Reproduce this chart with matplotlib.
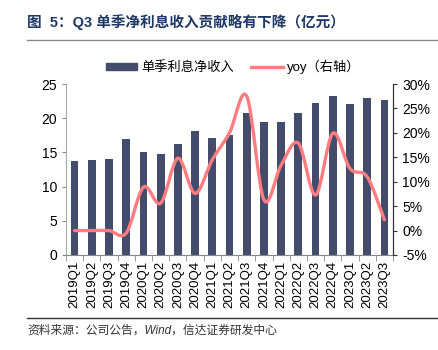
import numpy as np
import matplotlib
matplotlib.use("Agg")
import matplotlib.pyplot as plt
from matplotlib.path import Path
from matplotlib.patches import PathPatch
from matplotlib.lines import Line2D
from matplotlib.patches import Patch

plt.rcParams['font.family'] = ['Liberation Sans', 'Noto Sans CJK SC', 'DejaVu Sans']

quarters = ["2019Q1", "2019Q2", "2019Q3", "2019Q4", "2020Q1", "2020Q2", "2020Q3", "2020Q4",
            "2021Q1", "2021Q2", "2021Q3", "2021Q4", "2022Q1", "2022Q2", "2022Q3", "2022Q4",
            "2023Q1", "2023Q2", "2023Q3"]
nii = [13.8, 13.85, 14.1, 17.0, 15.0, 14.7, 16.2, 18.2, 17.1, 17.6, 20.7, 19.4,
       19.5, 20.8, 22.2, 23.3, 22.1, 22.9, 22.6]
yoy = [0.0, 0.0, 0.0, -0.5, 8.9, 5.6, 14.8, 7.6, 14.5, 20.0, 27.5, 6.3,
       13.4, 17.9, 7.3, 19.9, 12.7, 11.0, 2.2]

bar_color = "#434C6B"
line_color = "#FF7C80"

fig = plt.figure(figsize=(4.39, 3.5), dpi=100)
ax = fig.add_axes([66 / 439, 1 - 255 / 350, (393 - 66) / 439, (255 - 84) / 350])
ax2 = ax.twinx()

x = np.arange(len(quarters))
ax.bar(x, nii, width=0.45, color=bar_color, zorder=2)
ax.set_ylim(0, 25)
ax.set_yticks(np.arange(0, 26, 5))
ax.set_xlim(-0.5, len(quarters) - 0.5)
ax.set_xticks(x)
ax.set_xticklabels(quarters, rotation=90, fontsize=9.5)
ax.set_xticks(np.arange(-0.5, len(quarters), 1), minor=True)
ax.tick_params(axis='x', which='major', length=0, pad=4)
ax.tick_params(axis='x', which='minor', length=4, color="#888888")
ax.tick_params(axis='y', labelsize=10, length=3, color="#888888")

# smooth line like excel (catmull-rom through data points)
pts = np.column_stack([x, yoy]).astype(float)
verts = [tuple(pts[0])]
codes = [Path.MOVETO]
t = 1 / 6
for i in range(len(pts) - 1):
    p0 = pts[max(i - 1, 0)]
    p1 = pts[i]
    p2 = pts[i + 1]
    p3 = pts[min(i + 2, len(pts) - 1)]
    c1 = p1 + (p2 - p0) * t
    c2 = p2 - (p3 - p1) * t
    verts += [tuple(c1), tuple(c2), tuple(p2)]
    codes += [Path.CURVE4] * 3
ax2.add_patch(PathPatch(Path(verts, codes), facecolor='none', edgecolor=line_color,
                        lw=2.4, zorder=3, capstyle='round'))
ax2.set_ylim(-5, 30)
ax2.set_yticks(np.arange(-5, 31, 5))
ax2.set_yticklabels([f"{v}%" for v in range(-5, 31, 5)])
ax2.tick_params(axis='y', labelsize=10, length=3, color="#333333")

for a in (ax, ax2):
    a.spines['top'].set_visible(False)
ax.spines['left'].set_color("#AAAAAA")
ax.spines['bottom'].set_color("#888888")
ax2.spines['left'].set_visible(False)
ax2.spines['bottom'].set_visible(False)
ax2.spines['right'].set_color("#333333")

handles = [Patch(color=bar_color), Line2D([0], [0], color=line_color, lw=2.4)]
fig.legend(handles, ["单季利息净收入", "yoy（右轴）"], loc='center', bbox_to_anchor=(233 / 439, 1 - 67 / 350),
           ncol=2, frameon=False, fontsize=9.5, handlelength=2.4, handleheight=0.5,
           columnspacing=1.3, handletextpad=0.3)

fig.text(27 / 439, 1 - 22 / 350, "图  5：Q3 单季净利息收入贡献略有下降（亿元）", fontsize=10.5,
         color="#1F3864", fontweight='bold', va='center')
fig.add_artist(Line2D([27 / 439, 1], [1 - 40 / 350] * 2, color="#888888", lw=1))
fig.add_artist(Line2D([27 / 439, 1], [1 - 318 / 350] * 2, color="#333333", lw=1))
fig.text(27 / 439, 1 - 331 / 350, "资料来源：公司公告，Wind，信达证券研发中心", fontsize=8.5,
         color="#333333", style='italic', va='center')

fig.savefig("out.png", dpi=100)
